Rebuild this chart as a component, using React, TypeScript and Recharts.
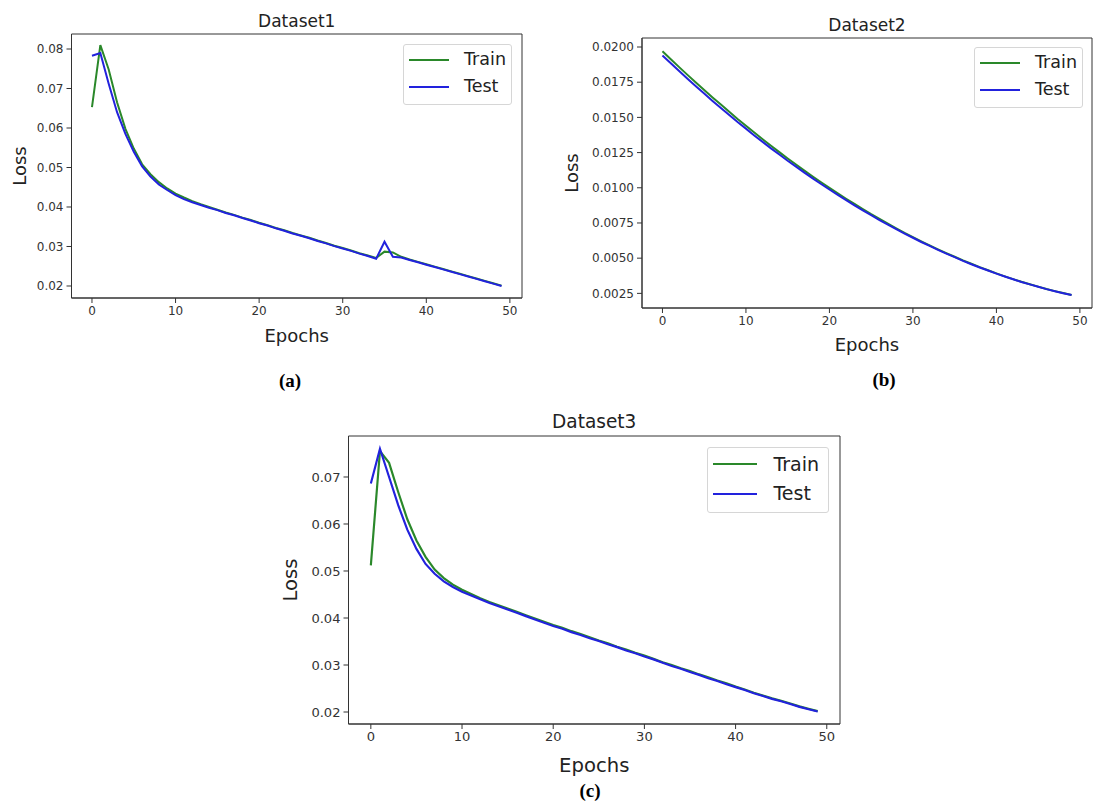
import React from 'react';
import { LineChart, Line, XAxis, YAxis, ReferenceArea } from 'recharts';

const W = 1094;
const H = 806;

const epochs = [
  0, 1, 2, 3, 4, 5, 6, 7, 8, 9, 10, 11, 12, 13, 14, 15, 16, 17, 18, 19, 20, 21, 22, 23, 24,
  25, 26, 27, 28, 29, 30, 31, 32, 33, 34, 35, 36, 37, 38, 39, 40, 41, 42, 43, 44, 45, 46, 47, 48, 49,
];

// Dataset1
const trainA = [
  0.0653, 0.0810, 0.0748, 0.0665, 0.0598, 0.0548, 0.0508, 0.0483, 0.0463, 0.0447,
  0.0434, 0.0424, 0.0415, 0.0407, 0.0400, 0.0393, 0.0386, 0.0380, 0.0373, 0.0367,
  0.0360, 0.0354, 0.0347, 0.0341, 0.0334, 0.0328, 0.0322, 0.0315, 0.0309, 0.0302,
  0.0296, 0.0290, 0.0283, 0.0277, 0.0271, 0.0287, 0.0285, 0.0274, 0.0267, 0.0261,
  0.0255, 0.0249, 0.0243, 0.0237, 0.0231, 0.0225, 0.0219, 0.0213, 0.0207, 0.0201,
];
const testA = [
  0.0783, 0.0790, 0.0712, 0.0640, 0.0585, 0.0540, 0.0503, 0.0477, 0.0457, 0.0443,
  0.0430, 0.0420, 0.0412, 0.0405, 0.0398, 0.0392, 0.0385, 0.0379, 0.0372, 0.0366,
  0.0359, 0.0353, 0.0346, 0.0340, 0.0333, 0.0327, 0.0321, 0.0314, 0.0308, 0.0301,
  0.0295, 0.0289, 0.0282, 0.0276, 0.0269, 0.0312, 0.0274, 0.0272, 0.0266, 0.0260,
  0.0254, 0.0248, 0.0242, 0.0236, 0.0230, 0.0224, 0.0218, 0.0212, 0.0206, 0.0200,
];

// Dataset2
const trainB = [
  0.01970, 0.01913, 0.01857, 0.01802, 0.01748, 0.01695, 0.01642, 0.01591, 0.01540, 0.01489,
  0.01441, 0.01392, 0.01345, 0.01298, 0.01253, 0.01208, 0.01165, 0.01122, 0.01080, 0.01039,
  0.00999, 0.00960, 0.00922, 0.00885, 0.00849, 0.00813, 0.00779, 0.00745, 0.00712, 0.00680,
  0.00650, 0.00620, 0.00591, 0.00563, 0.00536, 0.00510, 0.00484, 0.00460, 0.00436, 0.00414,
  0.00392, 0.00371, 0.00351, 0.00332, 0.00315, 0.00298, 0.00281, 0.00266, 0.00252, 0.00239,
];
const testB = [
  0.01940, 0.01884, 0.01829, 0.01774, 0.01721, 0.01669, 0.01617, 0.01567, 0.01517, 0.01467,
  0.01420, 0.01372, 0.01326, 0.01280, 0.01236, 0.01192, 0.01150, 0.01108, 0.01067, 0.01027,
  0.00988, 0.00949, 0.00912, 0.00875, 0.00840, 0.00805, 0.00771, 0.00738, 0.00706, 0.00675,
  0.00645, 0.00615, 0.00587, 0.00559, 0.00532, 0.00507, 0.00481, 0.00457, 0.00434, 0.00412,
  0.00390, 0.00370, 0.00350, 0.00331, 0.00314, 0.00297, 0.00280, 0.00265, 0.00251, 0.00238,
];

// Dataset3
const trainC = [
  0.0512, 0.0755, 0.0730, 0.0668, 0.0610, 0.0565, 0.0530, 0.0503, 0.0485, 0.0471,
  0.0460, 0.0451, 0.0442, 0.0434, 0.0427, 0.0420, 0.0413, 0.0406, 0.0399, 0.0392,
  0.0385, 0.0379, 0.0372, 0.0366, 0.0359, 0.0352, 0.0346, 0.0339, 0.0333, 0.0326,
  0.0320, 0.0313, 0.0306, 0.0300, 0.0293, 0.0287, 0.0280, 0.0274, 0.0267, 0.0261,
  0.0254, 0.0248, 0.0241, 0.0235, 0.0229, 0.0224, 0.0218, 0.0212, 0.0207, 0.0202,
];
const testC = [
  0.0686, 0.0760, 0.0700, 0.0640, 0.0588, 0.0547, 0.0515, 0.0494, 0.0478, 0.0466,
  0.0456, 0.0448, 0.0440, 0.0432, 0.0425, 0.0418, 0.0411, 0.0404, 0.0397, 0.0390,
  0.0383, 0.0377, 0.0370, 0.0364, 0.0357, 0.0351, 0.0344, 0.0338, 0.0331, 0.0325,
  0.0318, 0.0312, 0.0305, 0.0298, 0.0292, 0.0285, 0.0279, 0.0272, 0.0266, 0.0259,
  0.0253, 0.0247, 0.0240, 0.0234, 0.0228, 0.0223, 0.0217, 0.0211, 0.0206, 0.0201,
];

const xTicks = [0, 10, 20, 30, 40, 50];
const yTicksA = [0.02, 0.03, 0.04, 0.05, 0.06, 0.07, 0.08];
const yTicksB = [0.0025, 0.005, 0.0075, 0.01, 0.0125, 0.015, 0.0175, 0.02];
const yTicksC = [0.02, 0.03, 0.04, 0.05, 0.06, 0.07];
const seriesNames = ['Train', 'Test'];

const GREEN = '#2a882a';
const BLUE = '#2222dd';
const INK = '#333';
const FONT = '"DejaVu Sans", sans-serif';
const X_DOMAIN: [number, number] = [-2.45, 51.45];
const Y_AXIS_W = 60;
const X_AXIS_H = 40;

type PanelCfg = {
  title: string;
  caption: string;
  train: number[];
  test: number[];
  yDomain: [number, number];
  yTicks: number[];
  digits: number;
  plot: { left: number; top: number; right: number; bottom: number };
  s: number;
  titleY: number;
  lossX: number;
  epochsY: number;
  captionX: number;
  captionY: number;
  legend: { left: number; top: number; width: number; height: number };
};

const panels: PanelCfg[] = [
  {
    title: 'Dataset1', caption: '(a)', train: trainA, test: testA,
    yDomain: [0.01696, 0.0838], yTicks: yTicksA, digits: 2,
    plot: { left: 71.5, top: 34, right: 522, bottom: 298 }, s: 1,
    titleY: 27, lossX: 19, epochsY: 342, captionX: 290, captionY: 387,
    legend: { left: 403, top: 44, width: 109, height: 61 },
  },
  {
    title: 'Dataset2', caption: '(b)', train: trainB, test: testB,
    yDomain: [0.00146, 0.02064], yTicks: yTicksB, digits: 4,
    plot: { left: 642, top: 38, right: 1092, bottom: 308 }, s: 1,
    titleY: 31, lossX: 571, epochsY: 351, captionX: 884, captionY: 386,
    legend: { left: 974, top: 47, width: 109, height: 61 },
  },
  {
    title: 'Dataset3', caption: '(c)', train: trainC, test: testC,
    yDomain: [0.01745, 0.07872], yTicks: yTicksC, digits: 2,
    plot: { left: 348.5, top: 436, right: 840, bottom: 724 }, s: 1.09,
    titleY: 428, lossX: 290, epochsY: 772, captionX: 590, captionY: 797,
    legend: { left: 707, top: 447, width: 122, height: 66 },
  },
];

function Panel({ p }: { p: PanelCfg }) {
  const data = epochs.map((e, i) => ({ epoch: e, train: p.train[i], test: p.test[i] }));
  const tickFont = 12 * p.s;
  return (
    <div style={{ position: 'absolute', left: 0, top: 0 }}>
      <LineChart
        width={W}
        height={H}
        data={data}
        margin={{
          top: p.plot.top,
          right: W - p.plot.right,
          bottom: H - p.plot.bottom - X_AXIS_H,
          left: p.plot.left - Y_AXIS_W,
        }}
      >
        <XAxis
          dataKey="epoch"
          type="number"
          domain={X_DOMAIN}
          ticks={xTicks}
          interval={0}
          allowDataOverflow
          height={X_AXIS_H}
          tickSize={5}
          tickMargin={3}
          stroke={INK}
          tick={{ fill: INK, fontSize: tickFont }}
        />
        <YAxis
          type="number"
          domain={p.yDomain}
          ticks={p.yTicks}
          interval={0}
          allowDataOverflow
          width={Y_AXIS_W}
          tickSize={5}
          tickMargin={3}
          stroke={INK}
          tick={{ fill: INK, fontSize: tickFont }}
          tickFormatter={(v: number) => v.toFixed(p.digits)}
        />
        <ReferenceArea
          x1={X_DOMAIN[0]}
          x2={X_DOMAIN[1]}
          y1={p.yDomain[0]}
          y2={p.yDomain[1]}
          fill="none"
          stroke={INK}
          strokeWidth={1}
          ifOverflow="visible"
        />
        <Line type="linear" dataKey="train" name={seriesNames[0]} stroke={GREEN} strokeWidth={2 * p.s} dot={false} isAnimationActive={false} />
        <Line type="linear" dataKey="test" name={seriesNames[1]} stroke={BLUE} strokeWidth={2 * p.s} dot={false} isAnimationActive={false} />
      </LineChart>
    </div>
  );
}

function Legend({ p }: { p: PanelCfg }) {
  const s = p.s;
  const rows = [
    { name: seriesNames[0], color: GREEN },
    { name: seriesNames[1], color: BLUE },
  ];
  return (
    <div
      style={{
        position: 'absolute',
        left: p.legend.left,
        top: p.legend.top,
        width: p.legend.width,
        height: p.legend.height,
        boxSizing: 'border-box',
        border: '1px solid #d6d6d6',
        borderRadius: 3,
        background: 'rgba(255,255,255,0.85)',
      }}
    >
      {rows.map((r, i) => (
        <div
          key={r.name}
          style={{ position: 'absolute', left: 5 * s, top: (15 + 27 * i) * s - 12 * s, height: 24 * s, display: 'flex', alignItems: 'center' }}
        >
          <div style={{ width: 40 * s, height: 2 * s, background: r.color }} />
          <span style={{ marginLeft: 15 * s, fontSize: 17.5 * s, color: '#222', lineHeight: 1 }}>{r.name}</span>
        </div>
      ))}
    </div>
  );
}

function Labels() {
  return (
    <svg width={W} height={H} style={{ position: 'absolute', left: 0, top: 0, pointerEvents: 'none' }}>
      {panels.map((p) => {
        const cx = (p.plot.left + p.plot.right) / 2;
        const cy = (p.plot.top + p.plot.bottom) / 2;
        return (
          <g key={p.title} fill="#222" fontFamily={FONT}>
            <text x={cx} y={p.titleY} textAnchor="middle" fontSize={17 * p.s}>{p.title}</text>
            <text
              x={p.lossX}
              y={cy}
              textAnchor="middle"
              dominantBaseline="central"
              fontSize={18 * p.s}
              transform={`rotate(-90, ${p.lossX}, ${cy})`}
            >
              Loss
            </text>
            <text x={cx} y={p.epochsY} textAnchor="middle" fontSize={18 * p.s}>Epochs</text>
            <text
              x={p.captionX}
              y={p.captionY}
              textAnchor="middle"
              fontSize={19}
              fontWeight="bold"
              fontFamily='"Liberation Serif", serif'
              fill="#000"
            >
              {p.caption}
            </text>
          </g>
        );
      })}
    </svg>
  );
}

export default function App() {
  return (
    <div
      style={{
        position: 'absolute',
        left: 0,
        top: 0,
        width: W,
        height: H,
        background: '#fff',
        fontFamily: FONT,
        overflow: 'hidden',
      }}
    >
      <Labels />
      {panels.map((p) => (
        <Panel key={p.title} p={p} />
      ))}
      {panels.map((p) => (
        <Legend key={p.title} p={p} />
      ))}
    </div>
  );
}
